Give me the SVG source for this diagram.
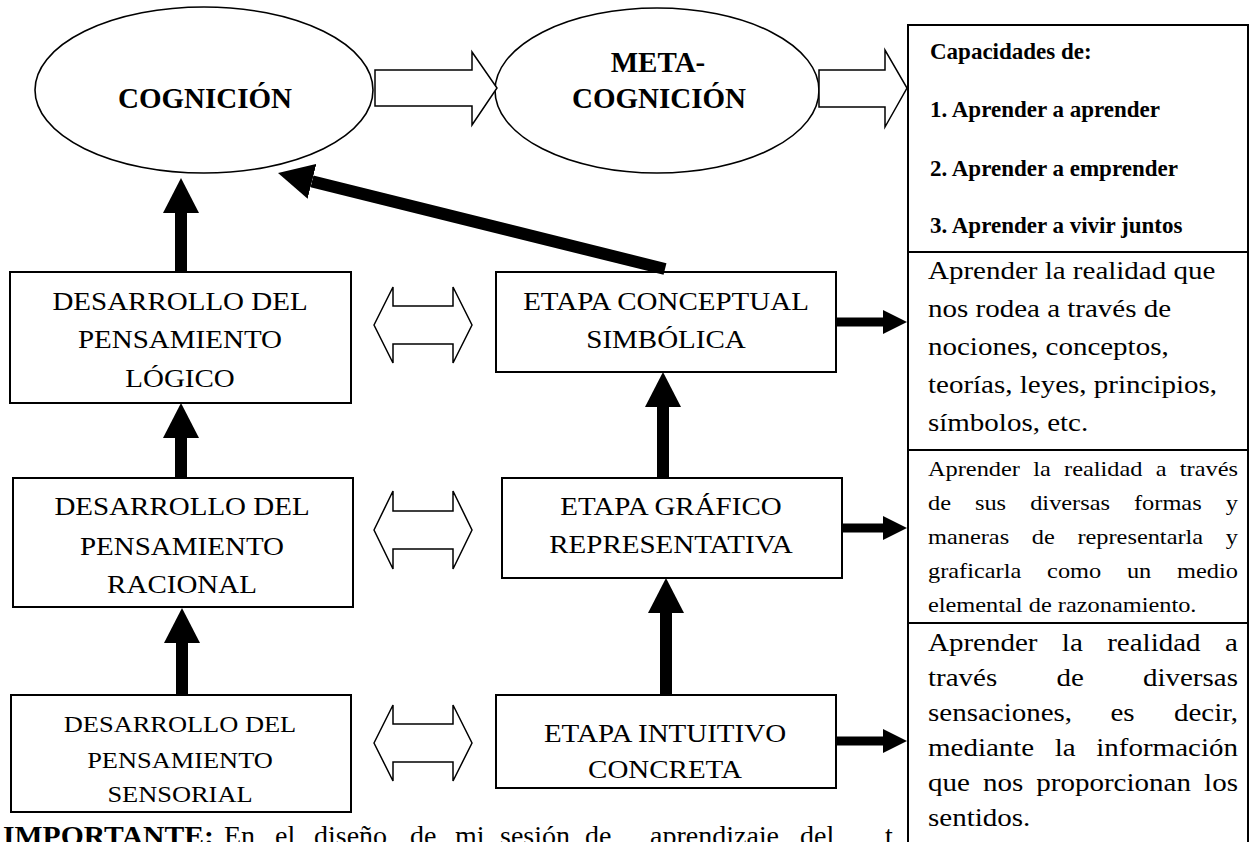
<svg xmlns="http://www.w3.org/2000/svg" width="1256" height="842" viewBox="0 0 1256 842">
<style>
.t{font-family:"Liberation Serif","Times New Roman",serif;fill:#000}
.b{font-weight:bold}
.box{fill:#fff;stroke:#000;stroke-width:2}
.ell{fill:#fff;stroke:#000;stroke-width:1.6}
.hollow{fill:#fff;stroke:#000;stroke-width:1.5;stroke-linejoin:miter}
.thick{stroke:#000;stroke-width:12;fill:none}
.thin{stroke:#000;stroke-width:9;fill:none}
</style>
<defs>
<marker id="ah" markerUnits="userSpaceOnUse" markerWidth="36" markerHeight="36" viewBox="0 0 36 36" refX="0" refY="18" orient="auto"><path d="M0,0 L35,18 L0,36 z" fill="#000"/></marker>
<marker id="ahs" markerUnits="userSpaceOnUse" markerWidth="24" markerHeight="24" viewBox="0 0 24 24" refX="0" refY="12" orient="auto"><path d="M0,0 L24,12 L0,24 z" fill="#000"/></marker>
</defs>
<rect width="1256" height="842" fill="#fff"/>

<text class="t" y="845" font-size="28"><tspan class="b" x="3" textLength="211" lengthAdjust="spacingAndGlyphs">IMPORTANTE:</tspan><tspan x="224">En</tspan><tspan x="275">el</tspan><tspan x="314">diseño</tspan><tspan x="410">de</tspan><tspan x="455">mi</tspan><tspan x="500">sesión</tspan><tspan x="585">de</tspan><tspan x="650">aprendizaje</tspan><tspan x="800">del</tspan><tspan x="885">t</tspan></text>

<g id="cognicion">
<ellipse class="ell" cx="204" cy="90" rx="169" ry="83"/>
<text class="t b" x="205" y="108" font-size="29" text-anchor="middle">COGNICIÓN</text>
</g>
<g id="metacognicion">
<ellipse class="ell" cx="657" cy="90.5" rx="162" ry="82.5"/>
<text class="t b" x="658" y="72" font-size="29" text-anchor="middle">META-</text>
<text class="t b" x="659" y="108" font-size="29" text-anchor="middle">COGNICIÓN</text>
</g>

<g id="capacidades">
<rect class="box" x="908" y="25" width="340" height="227"/>
<text class="t b" x="930" font-size="23"><tspan y="59">Capacidades de:</tspan><tspan x="930" y="117">1. Aprender a aprender</tspan><tspan x="930" y="176">2. Aprender a emprender</tspan><tspan x="930" y="233">3. Aprender a vivir juntos</tspan></text>
</g>

<g id="desc-conceptual">
<rect class="box" x="908" y="252" width="340" height="198"/>
<g transform="scale(1.16 1)"><text class="t" x="800" font-size="25"><tspan y="279">Aprender la realidad que</tspan><tspan x="800" y="317">nos rodea a través de</tspan><tspan x="800" y="355">nociones, conceptos,</tspan><tspan x="800" y="393">teorías, leyes, principios,</tspan><tspan x="800" y="431">símbolos, etc.</tspan></text></g>
</g>

<g id="desc-grafico">
<rect class="box" x="908" y="450" width="340" height="173"/>
<g transform="scale(1.16 1)" class="t" font-size="21">
<text class="t" y="476"><tspan x="800">Aprender</tspan><tspan x="890.7">la</tspan><tspan x="917.3">realidad</tspan><tspan x="996.3">a</tspan></text>
<text class="t" x="1067.2" y="476" text-anchor="end">través</text>
<text class="t" y="510"><tspan x="800">de</tspan><tspan x="840.5">sus</tspan><tspan x="888.1">diversas</tspan><tspan x="977.6">formas</tspan></text>
<text class="t" x="1067.2" y="510" text-anchor="end">y</text>
<text class="t" y="544"><tspan x="800">maneras</tspan><tspan x="889.5">de</tspan><tspan x="928.8">representarla</tspan></text>
<text class="t" x="1067.2" y="544" text-anchor="end">y</text>
<text class="t" y="578"><tspan x="800">graficarla</tspan><tspan x="902.7">como</tspan><tspan x="971.5">un</tspan></text>
<text class="t" x="1067.2" y="578" text-anchor="end">medio</text>
<text class="t" x="800" y="612">elemental de razonamiento.</text>
</g>
</g>

<g id="desc-intuitivo">
<rect class="box" x="908" y="623" width="340" height="240"/>
<g transform="scale(1.16 1)" class="t" font-size="25">
<text class="t" y="651"><tspan x="800">Aprender</tspan><tspan x="915.4">la</tspan><tspan x="954.5">realidad</tspan></text>
<text class="t" x="1067.2" y="651" text-anchor="end">a</text>
<text class="t" y="686"><tspan x="800">través</tspan><tspan x="910.7">de</tspan></text>
<text class="t" x="1067.2" y="686" text-anchor="end">diversas</text>
<text class="t" y="721"><tspan x="800">sensaciones,</tspan><tspan x="957.3">es</tspan></text>
<text class="t" x="1067.2" y="721" text-anchor="end">decir,</text>
<text class="t" y="756"><tspan x="800">mediante</tspan><tspan x="909.3">la</tspan></text>
<text class="t" x="1067.2" y="756" text-anchor="end">información</text>
<text class="t" y="791"><tspan x="800">que</tspan><tspan x="847.4">nos</tspan><tspan x="893.4">proporcionan</tspan></text>
<text class="t" x="1067.2" y="791" text-anchor="end">los</text>
<text class="t" x="800" y="826">sentidos.</text>
</g>
</g>

<g id="logico">
<rect class="box" x="10" y="272" width="341" height="131"/>
<g transform="translate(180 0) scale(1.16 1)"><text class="t" font-size="25" text-anchor="middle"><tspan x="0" y="310">DESARROLLO DEL</tspan><tspan x="0" y="348">PENSAMIENTO</tspan><tspan x="0" y="387">LÓGICO</tspan></text></g>
</g>
<g id="racional">
<rect class="box" x="13" y="478" width="340" height="129"/>
<g transform="translate(182 0) scale(1.16 1)"><text class="t" font-size="25" text-anchor="middle"><tspan x="0" y="515">DESARROLLO DEL</tspan><tspan x="0" y="555">PENSAMIENTO</tspan><tspan x="0" y="593">RACIONAL</tspan></text></g>
</g>
<g id="sensorial">
<rect class="box" x="11" y="695" width="340" height="117"/>
<g transform="translate(180 0) scale(1.1 1)"><text class="t" font-size="24" text-anchor="middle"><tspan x="0" y="732">DESARROLLO DEL</tspan><tspan x="0" y="768">PENSAMIENTO</tspan><tspan x="0" y="802">SENSORIAL</tspan></text></g>
</g>
<g id="conceptual">
<rect class="box" x="496" y="272" width="340" height="100"/>
<g transform="translate(666 0) scale(1.16 1)"><text class="t" font-size="25" text-anchor="middle"><tspan x="0" y="310">ETAPA CONCEPTUAL</tspan><tspan x="0" y="348">SIMBÓLICA</tspan></text></g>
</g>
<g id="grafico">
<rect class="box" x="502" y="478" width="340" height="100"/>
<g transform="translate(671 0) scale(1.16 1)"><text class="t" font-size="25" text-anchor="middle"><tspan x="0" y="515">ETAPA GRÁFICO</tspan><tspan x="0" y="553">REPRESENTATIVA</tspan></text></g>
</g>
<g id="intuitivo">
<rect class="box" x="496" y="695" width="340" height="93"/>
<g transform="translate(665 0) scale(1.16 1)"><text class="t" font-size="25" text-anchor="middle"><tspan x="0" y="742">ETAPA INTUITIVO</tspan><tspan x="0" y="778">CONCRETA</tspan></text></g>
</g>

<g id="connectors">
<polygon class="hollow" points="375,70 472,70 472,52 497,88 472,125 472,106 375,106"/>
<polygon class="hollow" points="819,70 885,70 885,50 907,88 885,127 885,107 819,107"/>
<polygon class="hollow" points="374,325 393,287 393,306 453,306 453,287 472,325 453,363 453,344 393,344 393,363"/>
<polygon class="hollow" points="374,530 393,491 393,511 453,511 453,491 472,530 453,569 453,549 393,549 393,569"/>
<polygon class="hollow" points="374,743 393,705 393,724 453,724 453,705 472,743 453,781 453,762 393,762 393,781"/>
<line class="thick" x1="181" y1="272" x2="181" y2="213" marker-end="url(#ah)"/>
<line class="thick" x1="181" y1="478" x2="181" y2="438" marker-end="url(#ah)"/>
<line class="thick" x1="182" y1="695" x2="182" y2="643" marker-end="url(#ah)"/>
<line class="thick" x1="663" y1="478" x2="663" y2="407" marker-end="url(#ah)"/>
<line class="thick" x1="666" y1="695" x2="666" y2="613" marker-end="url(#ah)"/>
<line class="thick" x1="665" y1="269" x2="312" y2="181.4" marker-end="url(#ah)"/>
<line class="thin" x1="836" y1="322" x2="883" y2="322" marker-end="url(#ahs)"/>
<line class="thin" x1="842" y1="528" x2="883" y2="528" marker-end="url(#ahs)"/>
<line class="thin" x1="836" y1="741" x2="883" y2="741" marker-end="url(#ahs)"/>
</g>
</svg>
